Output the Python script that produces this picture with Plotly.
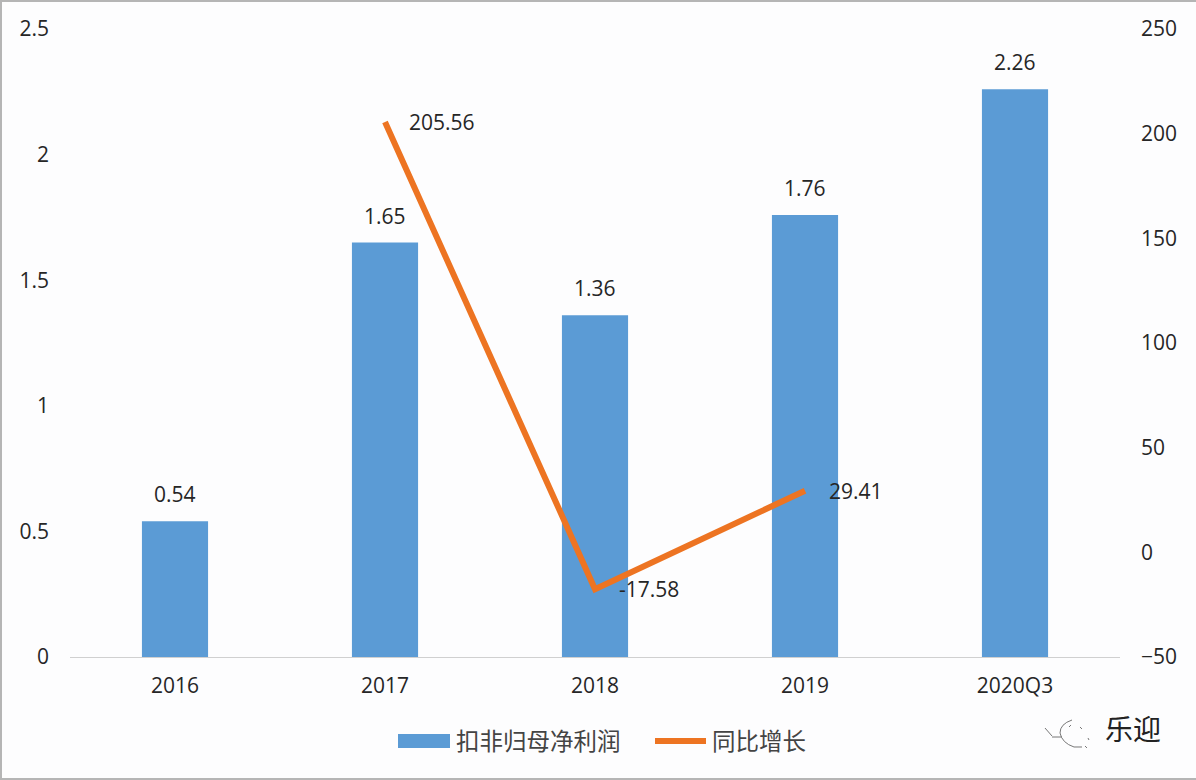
import plotly.graph_objects as go

categories = ["2016", "2017", "2018", "2019", "2020Q3"]
profit = [0.54, 1.65, 1.36, 1.76, 2.26]
growth = [None, 205.56, -17.58, 29.41, None]
profit_labels = ["0.54", "1.65", "1.36", "1.76", "2.26"]
growth_labels = ["", "205.56", "-17.58", "29.41", ""]
left_ticks = [0, 0.5, 1, 1.5, 2, 2.5]
left_tick_labels = ["0", "0.5", "1", "1.5", "2", "2.5"]
right_ticks = [-50, 0, 50, 100, 150, 200, 250]

FONT = "Open Sans, Noto Sans CJK SC"
TEXT = "#262626"
W, H = 1196, 780
L, R, T, B = 70, 76, 29, 123
PW, PH = W - L - R, H - T - B

fig = go.Figure()
fig.add_trace(go.Bar(x=categories, y=profit, name="扣非归母净利润", marker=dict(color="#5B9BD5", line=dict(width=0)),
                     width=0.315, yaxis="y", showlegend=False))
fig.add_trace(go.Scatter(x=categories, y=growth, name="同比增长", mode="lines", line=dict(color="#ED7422", width=6),
                         yaxis="y2", showlegend=False, cliponaxis=False))

for i, (v, t) in enumerate(zip(profit, profit_labels)):
    fig.add_annotation(x=i, y=v, xref="x", yref="y", text=t, showarrow=False, yanchor="bottom", yshift=11,
                       font=dict(size=21, color=TEXT))
for i, (v, t) in enumerate(zip(growth, growth_labels)):
    if v is not None:
        fig.add_annotation(x=i, y=v, xref="x", yref="y2", text=t, showarrow=False, xanchor="left", xshift=22,
                           font=dict(size=21, color=TEXT))

def px(x):
    return (x - L) / PW

def py(y):
    return 1 - (y - T) / PH

def paper_path(path):
    pts = path.split()
    out = []
    i = 0
    while i < len(pts):
        if pts[i] in "MLQ":
            out.append(pts[i]); i += 1
        else:
            out.append(f"{px(float(pts[i])):.5f}"); out.append(f"{py(float(pts[i+1])):.5f}"); i += 2
    return " ".join(out)

# Legend entries
fig.add_shape(type="rect", xref="paper", yref="paper", x0=px(398), x1=px(450), y0=py(734), y1=py(748),
              fillcolor="#5B9BD5", line=dict(width=0))
fig.add_shape(type="line", xref="paper", yref="paper", x0=px(655), x1=px(706), y0=py(741), y1=py(741),
              line=dict(color="#ED7422", width=6))
fig.add_annotation(xref="paper", yref="paper", x=px(454), y=py(740), xanchor="left", yanchor="middle",
                   text="扣非归母净利润", showarrow=False,
                   font=dict(size=23.5, color="#444444", family="Noto Sans CJK SC"))
fig.add_annotation(xref="paper", yref="paper", x=px(710), y=py(740), xanchor="left", yanchor="middle",
                   text="同比增长", showarrow=False,
                   font=dict(size=23.5, color="#444444", family="Noto Sans CJK SC"))

# Watermark
fig.add_annotation(xref="paper", yref="paper", x=px(1103), y=py(728), xanchor="left", yanchor="middle",
                   text="乐迎", showarrow=False,
                   font=dict(size=28, color="#222222", family="Noto Sans CJK SC"))
for path in [
    "M 1072 720 Q 1060 724 1060 733 Q 1062 743 1074 747 L 1082 747",
    "M 1045 728 L 1052 736",
    "M 1052 737 L 1062 737",
    "M 1069 727 L 1071 725",
    "M 1080 727 L 1082 729",
    "M 1088 738 L 1089 740",
    "M 1085 746 L 1087 748",
]:
    fig.add_shape(type="path", xref="paper", yref="paper", path=paper_path(path), line=dict(color="#777777", width=1))

# Picture frame: top, left and bottom edges
fig.add_shape(type="path", xref="paper", yref="paper", path=paper_path(f"M {W} 0 L 0 0 L 0 {H} L {W} {H}"),
              line=dict(color="#B5B5B5", width=4), layer="above")

fig.update_layout(
    width=W, height=H, autosize=False, paper_bgcolor="#FDFDFE", plot_bgcolor="#FDFDFE",
    margin=dict(l=L, r=R, t=T, b=B),
    font=dict(family=FONT, size=21, color=TEXT),
    xaxis=dict(type="category", showgrid=False, showline=True, linecolor="#D0D0D0", linewidth=1, ticks="",
               tickfont=dict(size=21), ticklabelstandoff=10),
    yaxis=dict(range=[0, 2.5], tickvals=left_ticks, ticktext=left_tick_labels, showgrid=False, zeroline=False, ticks="",
               tickfont=dict(size=21), ticklabelstandoff=20),
    yaxis2=dict(range=[-50, 250], tickvals=right_ticks, overlaying="y", side="right", showgrid=False, zeroline=False,
                ticks="", tickfont=dict(size=21), ticklabelstandoff=20),
    showlegend=False,
)
fig.write_html("out.html", config={"displayModeBar": False},
               post_script="document.body.style.margin='0';document.body.style.overflow='hidden';")
